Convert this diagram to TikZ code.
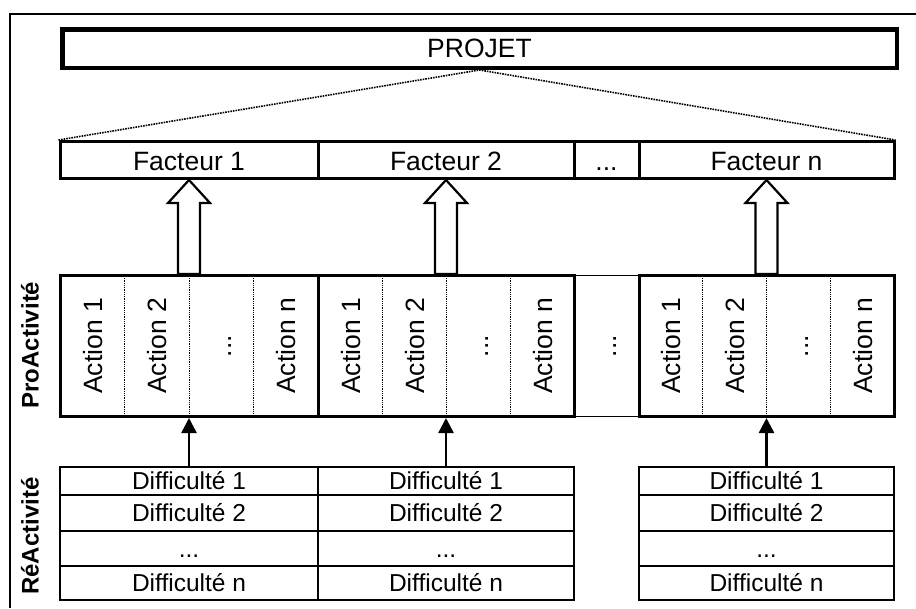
\documentclass[tikz,border=0pt]{standalone}
\usepackage{fontspec}
\setmainfont{Liberation Sans}
\usetikzlibrary{calc, arrows.meta, positioning}
\newcommand\ellip{...}

\tikzset{
  box/.style={draw, inner sep=0pt, font=\fontsize{26.5}{30}\selectfont},
  projet/.style={box, line width=4.5pt, minimum width=834.5pt, minimum height=38.5pt},
  facteur/.style={box, line width=3pt, minimum height=37pt, text height=21pt, text depth=0pt},
  actgroup/.style={draw, line width=3pt, inner sep=0pt, minimum height=141pt},
  actlabel/.style={rotate=90, inner sep=0pt, text height=20pt, text depth=0pt,
    font=\fontsize{26.5}{30}\selectfont},
  diff/.style={draw, line width=1.5pt, inner sep=0pt, font=\fontsize{24.5}{28}\selectfont},
  side/.style={rotate=90, inner sep=0pt, font=\bfseries\fontsize{24}{28}\selectfont},
  hollow/.style={draw, fill=white, line width=2.2pt, line join=miter},
  solidarrow/.style={line width=2.5pt, -{Triangle[length=15pt, width=15pt]}},
  dotline/.style={densely dotted, line width=1.6pt},
  divider/.style={densely dotted, line width=0.8pt}
}

\begin{document}
\begin{tikzpicture}[x=1pt, y=-1pt]
  \useasboundingbox (0,0) rectangle (916,608);
  % frame
  \draw[line width=1.3pt] (916,14) -- (10,14) -- (10,608);

  % top
  \node[projet] (projet) at (479.5,48.5) {PROJET};

  % factors
  \node[facteur, minimum width=258pt] (f1) at (189,160) {Facteur 1};
  \node[facteur, minimum width=256pt] (f2) at (446,160) {Facteur 2};
  \node[facteur, minimum width=65pt]  (fd) at (606.5,160) {\ellip};
  \node[facteur, minimum width=255pt] (fn) at (766.5,160) {Facteur n};
  \draw[dotline] (f1.north west) -- (projet.south) -- (fn.north east);

  % actions
  \node[actgroup, minimum width=65pt, line width=1.8pt] (ad) at (606.5,346) {};
  \node[actlabel] at (606.5,346) {\ellip};
  \foreach \gx/\gw/\name in {60/258/a1, 318/256/a2, 639/255/a3}{
    \node[actgroup, minimum width=\gw pt] (\name) at (\gx+\gw/2,346) {};
    \foreach \k/\txt in {1/Action 1, 2/Action 2, 3/\ellip, 4/Action n}{
      \node[actlabel] at (\gx+\gw/4*\k-\gw/8,346) {\txt};
      \ifnum \k < 4
        \draw[divider] (\gx+\gw/4*\k,276) -- (\gx+\gw/4*\k,416);
      \fi
    }
  }
  \coordinate (k1) at (189,0);
  \coordinate (k2) at (446,0);
  \coordinate (k3) at (766.5,0);

  % hollow arrows
  \foreach \a/\f/\k in {a1/f1/k1, a2/f2/k2, a3/fn/k3}{
    \draw[hollow] (\f.south -| \k) -- ++(21,23) -- ++(-10,0)
      -- ($(\a.north -| \k)+(11,0)$) -- ++(-22,0)
      -- ($(\f.south -| \k)+(-11,23)$) -- ++(-10,0) -- cycle;
  }

  % difficulties
  \foreach \gx/\gw/\name in {60/258/d1, 318/256/d2, 639/255/d3}{
    \node[diff, minimum width=\gw pt, minimum height=28pt] (\name r1) at (\gx+\gw/2,481) {Difficulté 1};
    \node[diff, minimum width=\gw pt, minimum height=36pt] (\name r2) at (\gx+\gw/2,513) {Difficulté 2};
    \node[diff, minimum width=\gw pt, minimum height=35pt] (\name r3) at (\gx+\gw/2,548.5) {\raisebox{-9pt}[0pt][0pt]{\ellip}};
    \node[diff, minimum width=\gw pt, minimum height=34pt] (\name r4) at (\gx+\gw/2,583) {Difficulté n};
  }

  % solid arrows
  \draw[solidarrow] (d1r1.north -| k1) -- (a1.south -| k1);
  \draw[solidarrow] (d2r1.north -| k2) -- (a2.south -| k2);
  \draw[solidarrow] (d3r1.north -| k3) -- (a3.south -| k3);

  % side labels
  \node[side] (pro) at (30,345) {ProActivité};
  \node[side] (re) at (30,536) {RéActivité};
\end{tikzpicture}
\end{document}
